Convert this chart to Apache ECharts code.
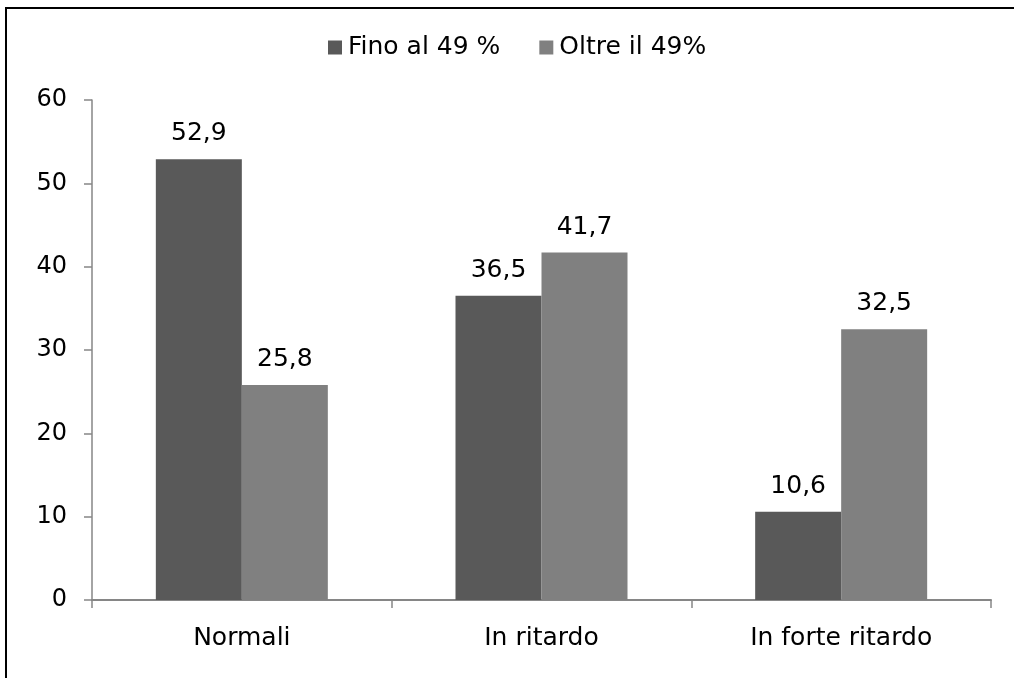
<!DOCTYPE html>
<html>
<head>
<meta charset="utf-8">
<script src="https://cdn.jsdelivr.net/npm/echarts@6/dist/echarts.min.js"></script>
<style>
  html, body { margin: 0; padding: 0; background: #fff; }
  #chart { width: 1014px; height: 678px; }
</style>
</head>
<body>
<div id="chart"></div>
<script>
// Categories and values
const categories = ['Normali', 'In ritardo', 'In forte ritardo'];
const seriesNames = ['Fino al 49 %', 'Oltre il 49%'];
const finoAl49 = [52.9, 36.5, 10.6];
const oltreIl49 = [25.8, 41.7, 32.5];
const yTicks = { min: 0, max: 60, interval: 10 };

const font = 'DejaVu Sans, Verdana, sans-serif';
const axisGray = '#868686';

const chart = echarts.init(document.getElementById('chart'));

// Italian decimal comma
function fmt(p) {
  return p.value.toFixed(1).replace('.', ',');
}

const labelStyle = {
  show: true,
  position: 'top',
  distance: 13,
  formatter: fmt,
  color: '#000',
  fontFamily: font,
  fontSize: 25
};

chart.setOption({
  animation: false,
  graphic: [{
    type: 'rect',
    shape: { x: 6, y: 8, width: 1100, height: 1100 },
    style: { fill: 'none', stroke: '#000', lineWidth: 2 },
    z: 100
  }],
  legend: {
    top: 30,
    left: 323,
    itemWidth: 14,
    itemHeight: 14,
    itemGap: 39,
    icon: 'rect',
    textStyle: { fontFamily: font, fontSize: 25, color: '#000', padding: [0, 0, 0, 1] },
    data: seriesNames
  },
  grid: { left: 92, right: 23, top: 100, bottom: 78, containLabel: false },
  xAxis: {
    type: 'category',
    data: categories,
    axisLine: { lineStyle: { color: axisGray, width: 2 } },
    axisTick: { show: true, length: 8, lineStyle: { color: axisGray, width: 1.5 } },
    axisLabel: { fontFamily: font, fontSize: 25, color: '#000', margin: 26 }
  },
  yAxis: {
    type: 'value',
    min: yTicks.min,
    max: yTicks.max,
    interval: yTicks.interval,
    axisLine: { show: true, lineStyle: { color: axisGray, width: 1.5 } },
    axisTick: { show: true, length: 8, lineStyle: { color: axisGray, width: 1.5 } },
    splitLine: { show: false },
    axisLabel: { fontFamily: font, fontSize: 24, color: '#000', margin: 25 }
  },
  series: [
    {
      name: seriesNames[0],
      type: 'bar',
      data: finoAl49,
      barWidth: 86,
      barGap: '0%',
      itemStyle: { color: '#595959' },
      label: labelStyle
    },
    {
      name: seriesNames[1],
      type: 'bar',
      data: oltreIl49,
      barWidth: 86,
      barGap: '0%',
      itemStyle: { color: '#808080' },
      label: labelStyle
    }
  ]
});
</script>
</body>
</html>
